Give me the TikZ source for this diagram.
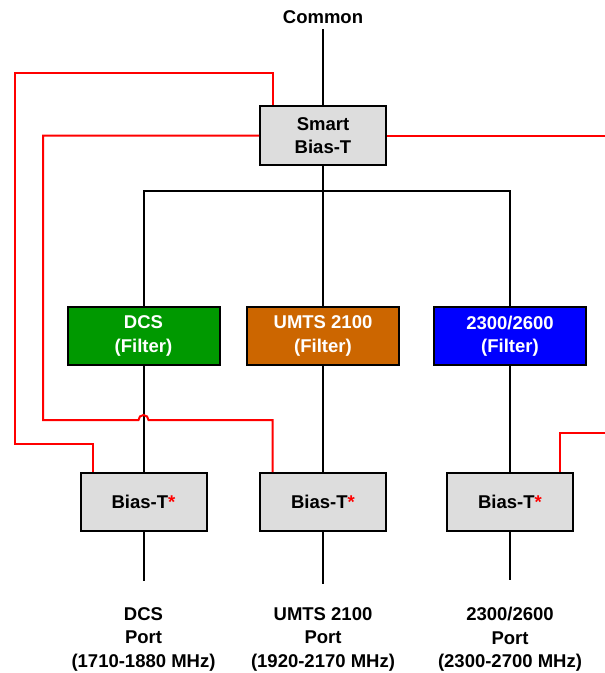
\documentclass[tikz,border=0pt]{standalone}
\usepackage{fontspec}
\setmainfont{Liberation Sans}
\definecolor{dcsgreen}{RGB}{0,153,0}
\definecolor{umtsorange}{RGB}{204,102,0}
\definecolor{bandblue}{RGB}{0,0,255}
\definecolor{boxgrey}{RGB}{221,221,221}
\definecolor{feedred}{RGB}{255,0,0}
\begin{document}
\begin{tikzpicture}[x=1pt, y=-1pt,
        font=\fontsize{18.5}{23.5}\selectfont\bfseries,
        wire/.style={line width=2pt},
        feed/.style={line width=2pt, draw=feedred},
        biasbox/.style={draw, line width=2pt, fill=boxgrey, minimum width=126pt, minimum height=58pt, align=center},
        filterbox/.style={draw, line width=2pt, text=white, minimum width=152pt, minimum height=58pt, align=center},
        portlabel/.style={anchor=north, inner sep=0pt, align=center}]
                \useasboundingbox (0,0) rectangle (605,673);
                \node (common) at (323,17) {Common};
                \node[biasbox, minimum height=59pt] (smart) at (323,135.5) {Smart\\Bias-T};
                \node[filterbox, fill=dcsgreen] (dcs) at (143.5,336) {DCS\\(Filter)};
                \node[filterbox, fill=umtsorange] (umts) at (323,336) {UMTS 2100\\(Filter)};
                \node[filterbox, fill=bandblue] (band) at (510,336) {2300/2600\\(Filter)};
                \node[biasbox] (biasA) at (143.5,502) {Bias-T\textcolor{feedred}{*}};
                \node[biasbox] (biasB) at (323,502) {Bias-T\textcolor{feedred}{*}};
                \node[biasbox] (biasC) at (510,502) {Bias-T\textcolor{feedred}{*}};
                \node[portlabel] (portA) at (143.5,607) {DCS\\Port\\(1710-1880 MHz)};
                \node[portlabel] (portB) at (323,607) {UMTS 2100\\Port\\(1920-2170 MHz)};
                \node[portlabel] (portC) at (510,607) {2300/2600\\Port\\(2300-2700 MHz)};
                \coordinate (bus) at (323,191);
                \coordinate (edgeT) at (605,135.5);
                \coordinate (edgeB) at (605,433);
                \draw[wire, shorten <=2pt] (common) -- (smart);
                \draw[wire] (smart) -- (bus);
                \draw[wire] (dcs) |- (bus) -| (band);
                \draw[wire] (bus) -- (umts);
                \draw[wire] (dcs) -- (biasA);
                \draw[wire] (umts) -- (biasB);
                \draw[wire] (band) -- (biasC);
                \draw[wire, shorten >=26pt] (biasA) -- (portA);
                \draw[wire, shorten >=23pt] (biasB) -- (portB);
                \draw[wire, shorten >=27pt] (biasC) -- (portC);
                \draw[feed] ([xshift=-50.5pt]smart.north) -- ++(0,-32) -| (14.7,444) -| ([xshift=-51pt]biasA.north);
                \draw[feed] (smart.west) -| (43,420) -- (138.5,420) arc[start angle=180, end angle=0, radius=5pt] -| ([xshift=-50.5pt]biasB.north);
                \draw[feed] (smart.east) -- (edgeT);
                \draw[feed] (edgeB) -| ([xshift=50pt]biasC.north);
            \end{tikzpicture}
\end{document}
